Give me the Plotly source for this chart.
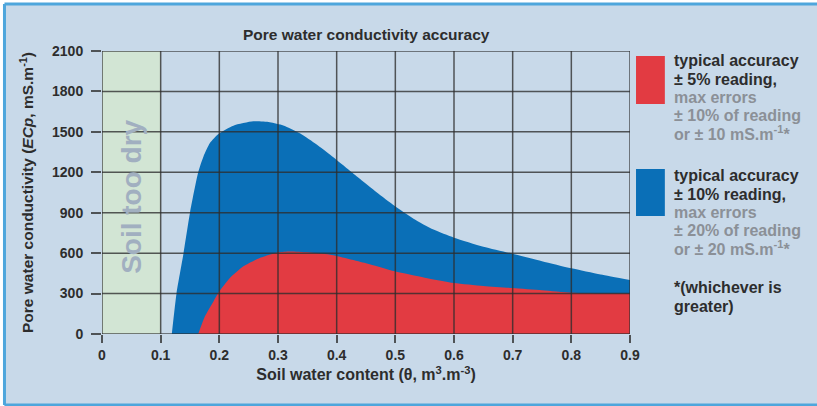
import plotly.graph_objects as go

# ---- data ----
x_ticks = [0, 0.1, 0.2, 0.3, 0.4, 0.5, 0.6, 0.7, 0.8, 0.9]
x_tick_labels = ["0", "0.1", "0.2", "0.3", "0.4", "0.5", "0.6", "0.7", "0.8", "0.9"]
y_ticks = [0, 300, 600, 900, 1200, 1500, 1800, 2100]
y_tick_labels = ["0", "300", "600", "900", "1200", "1500", "1800", "2100"]

# upper limit of the "±10% reading" band (blue)
blue_x = [0.119, 0.127, 0.139, 0.150, 0.164, 0.173, 0.184, 0.199, 0.224, 0.258, 0.286,
          0.309, 0.338, 0.366, 0.389, 0.423, 0.440, 0.468, 0.499, 0.531, 0.565, 0.600,
          0.650, 0.700, 0.750, 0.800, 0.850, 0.900]
blue_y = [0, 300, 600, 900, 1200, 1318, 1417, 1486, 1546, 1578, 1572,
          1548, 1488, 1406, 1330, 1210, 1150, 1052, 950, 856, 775, 715,
          648, 596, 540, 487, 441, 400]

# upper limit of the "±5% reading" band (red)
red_x = [0.164, 0.1755, 0.190, 0.199, 0.218, 0.241, 0.269, 0.301, 0.320, 0.350,
         0.389, 0.450, 0.499, 0.550, 0.600, 0.650, 0.700, 0.750, 0.800, 0.850, 0.900]
red_y = [0, 131, 242, 309, 415, 502, 564, 606, 613, 606,
         588, 525, 465, 418, 378, 356, 341, 324, 306, 300, 300]

dry_range = [0, 0.1]

legend_red_lines = ["typical accuracy", "± 5% reading,", "max errors",
                    "± 10% of reading", "or ± 10 mS.m<sup>-1</sup>*"]
legend_blue_lines = ["typical accuracy", "± 10% reading,", "max errors",
                     "± 20% of reading", "or ± 20 mS.m<sup>-1</sup>*"]
footnote_lines = ["*(whichever is", "greater)"]

BG = "#c8d9e9"
GRID = "rgba(45,45,45,0.78)"
DARK = "#2d2d2d"
GRAY = "#8b9097"
RED = "#e23b42"
BLUE = "#0a6fb7"
BORDER = "#4ea6dc"
FONT = "Liberation Sans, Arial, sans-serif"

fig = go.Figure()

fig.add_trace(go.Scatter(x=blue_x, y=blue_y, mode="lines", fill="tozeroy",
                         line=dict(width=0, shape="spline", smoothing=0.6, color=BLUE),
                         fillcolor=BLUE, hoverinfo="skip", showlegend=False))
fig.add_trace(go.Scatter(x=red_x, y=red_y, mode="lines", fill="tozeroy",
                         line=dict(width=0, shape="spline", smoothing=0.6, color=RED),
                         fillcolor=RED, hoverinfo="skip", showlegend=False))

shapes = []
# white strip outside the panel border (top and left), then the border lines
px0, px1, py0, py1 = -0.1847, 1.6, -0.251, 1.166
shapes.append(dict(type="rect", xref="paper", yref="paper", x0=-0.3, x1=px1,
                   y0=py1, y1=1.4, layer="below", fillcolor="white", line=dict(width=0)))
shapes.append(dict(type="rect", xref="paper", yref="paper", x0=-0.3, x1=px0,
                   y0=-0.4, y1=1.4, layer="below", fillcolor="white", line=dict(width=0)))
for (a, b, c, d) in [(px0, px1, py1, py1), (px0, px0, py0, py1), (px0, px1, py0, py0)]:
    shapes.append(dict(type="line", xref="paper", yref="paper", x0=a, x1=b, y0=c, y1=d,
                       layer="below", line=dict(color=BORDER, width=3)))
# "soil too dry" band
shapes.append(dict(type="rect", xref="x", yref="paper", x0=dry_range[0], x1=dry_range[1],
                   y0=0, y1=1, layer="below", fillcolor="#d2e5d4", line=dict(width=0)))
# grid drawn above the filled areas
for xv in x_ticks:
    shapes.append(dict(type="line", xref="x", yref="paper", x0=xv, x1=xv, y0=0, y1=1,
                       layer="above", line=dict(color=GRID, width=1.5)))
for yv in y_ticks:
    shapes.append(dict(type="line", xref="paper", yref="y", x0=0, x1=1, y0=yv, y1=yv,
                       layer="above", line=dict(color=GRID, width=1.5)))
# legend swatches
shapes.append(dict(type="rect", xref="paper", yref="paper", x0=1.0114, x1=1.066,
                   y0=0.813, y1=0.982, fillcolor=RED, line=dict(width=0)))
shapes.append(dict(type="rect", xref="paper", yref="paper", x0=1.0114, x1=1.066,
                   y0=0.417, y1=0.583, fillcolor=BLUE, line=dict(width=0)))

annotations = [
    dict(text="<b>Soil too dry</b>", x=0.05, y=1020, xref="x", yref="y", textangle=-90,
         showarrow=False, font=dict(family=FONT, size=28, color="#a1afc0"),
         xanchor="center", yanchor="middle"),
    dict(text="<b>Pore water conductivity accuracy</b>", xref="paper", yref="paper",
         x=0.5, y=1.06, showarrow=False, font=dict(family=FONT, size=15.5, color=DARK),
         xanchor="center", yanchor="middle"),
]

PLOT_TOP, PLOT_H = 51, 283


def legend_line(text, py, color):
    annotations.append(dict(text=f"<b>{text}</b>", xref="paper", yref="paper",
                            x=1.0814, y=(PLOT_TOP + PLOT_H - py) / PLOT_H,
                            showarrow=False, xanchor="left", yanchor="middle",
                            borderpad=0, font=dict(family=FONT, size=16, color=color)))


red_py = [60, 79, 97.3, 115.7, 133.3]
blue_py = [175.7, 194, 212, 230, 248.3]
foot_py = [287.3, 306]
for i, t in enumerate(legend_red_lines):
    legend_line(t, red_py[i], DARK if i < 2 else GRAY)
for i, t in enumerate(legend_blue_lines):
    legend_line(t, blue_py[i], DARK if i < 2 else GRAY)
for i, t in enumerate(footnote_lines):
    legend_line(t, foot_py[i], DARK)

fig.update_layout(
    width=817, height=406, autosize=False,
    margin=dict(l=102, r=187, t=51, b=72, pad=0),
    paper_bgcolor=BG, plot_bgcolor="rgba(0,0,0,0)",
    shapes=shapes, annotations=annotations, showlegend=False,
    font=dict(family=FONT, color=DARK),
)
fig.update_xaxes(range=[0, 0.9], tickmode="array", tickvals=x_ticks,
                 ticktext=[f"<b>{t}</b>" for t in x_tick_labels],
                 showgrid=False, zeroline=False, showline=False, automargin=False,
                 ticks="outside", ticklen=8, tickwidth=1.5, tickcolor=GRID,
                 tickfont=dict(family=FONT, size=14, color=DARK),
                 title=dict(text="<b>Soil water content (θ, m<sup>3</sup>.m<sup>-3</sup>)</b>",
                            font=dict(family=FONT, size=16, color=DARK), standoff=7))
fig.update_yaxes(range=[0, 2100], tickmode="array", tickvals=y_ticks,
                 ticktext=[f"<b>{t}</b>" for t in y_tick_labels],
                 showgrid=False, zeroline=False, showline=False, automargin=False,
                 ticks="outside", ticklen=10, tickwidth=1.5, tickcolor=GRID,
                 ticklabelstandoff=5,
                 tickfont=dict(family=FONT, size=14, color=DARK),
                 title=dict(text="<b>Pore water conductivity (<i>ECp</i>, mS.m<sup>-1</sup>)</b>",
                            font=dict(family=FONT, size=15.5, color=DARK), standoff=14))

fig.write_html("out.html", config={"displayModeBar": False},
               post_script=("document.body.style.margin='0px';"
                            "document.body.style.overflow='hidden';"
                            "document.documentElement.style.overflow='hidden';"))
